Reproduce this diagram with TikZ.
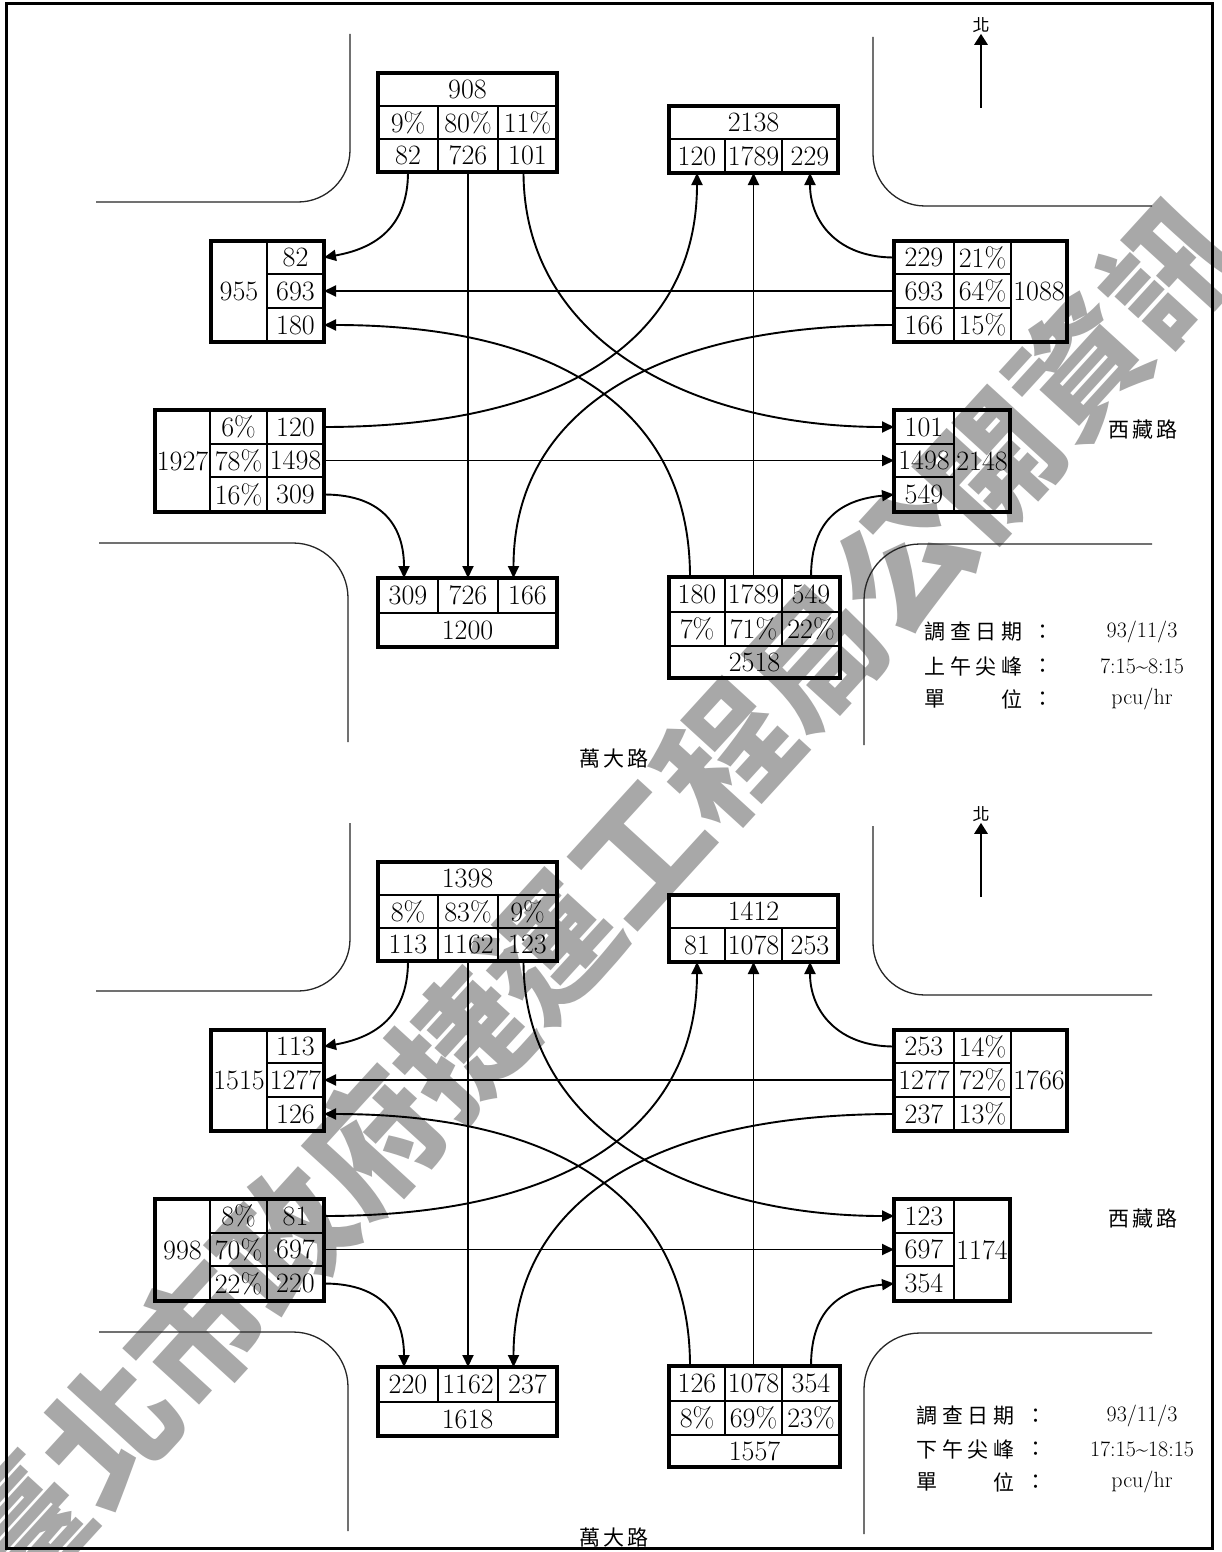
\documentclass[tikz,border=0pt]{standalone}
\usepackage{fontspec}
\newfontfamily\cjk{Noto Sans CJK TC}
\usetikzlibrary{arrows.meta}
\tikzset{
  cellbox/.style={draw, line width=1.6pt, inner sep=0pt, outer sep=0pt, font=\fontsize{28}{28}\selectfont},
  thickbox/.style={line width=4.5pt},
  flow/.style={line width=1.9pt, -{Triangle[length=12pt,width=11pt]}},
  road/.style={line width=1.3pt, black!85},
  northarrow/.style={line width=2.8pt, -{Triangle[length=11pt,width=13pt]}},
  cjklabel/.style={font=\cjk\fontsize{21}{21}\selectfont, inner sep=0pt},
  legendval/.style={font=\fontsize{22}{22}\selectfont, inner sep=0pt},
  wmark/.style={rotate=47.6, text=black!34, inner sep=0pt, font=\cjk\bfseries\fontsize{131}{131}\selectfont},
}
\newcommand{\cel}[6]{\node[cellbox, minimum width={(#4-#2)*1pt}, minimum height={(#5-#3)*1pt}] (#1) at ({(#2+#4)/2},{(#3+#5)/2}) {#6};}
\newcommand{\boxNi}[8]{%
  \cel{#1NiT}{378}{73}{557}{106}{#2}
  \cel{#1Nip1}{378}{106}{438}{139}{#3}
  \cel{#1Nip2}{438}{106}{498}{139}{#4}
  \cel{#1Nip3}{498}{106}{557}{139}{#5}
  \cel{#1Niv1}{378}{139}{438}{172}{#6}
  \cel{#1Niv2}{438}{139}{498}{172}{#7}
  \cel{#1Niv3}{498}{139}{557}{172}{#8}
  \draw[thickbox] (378,73) rectangle (557,172);}
\newcommand{\boxNo}[5]{%
  \cel{#1NoT}{669}{106}{838}{139}{#2}
  \cel{#1Nov1}{669}{139}{725}{173}{#3}
  \cel{#1Nov2}{725}{139}{782}{173}{#4}
  \cel{#1Nov3}{782}{139}{838}{173}{#5}
  \draw[thickbox] (669,106) rectangle (838,173);}
\newcommand{\boxWo}[5]{%
  \cel{#1WoT}{211}{241}{267}{342}{#2}
  \cel{#1Wov1}{267}{241}{324}{274}{#3}
  \cel{#1Wov2}{267}{274}{324}{308}{#4}
  \cel{#1Wov3}{267}{308}{324}{342}{#5}
  \draw[thickbox] (211,241) rectangle (324,342);}
\newcommand{\boxWi}[8]{%
  \cel{#1WiT}{155}{410}{210}{512}{#2}
  \cel{#1Wip1}{210}{410}{267}{444}{#3}
  \cel{#1Wip2}{210}{444}{267}{477}{#4}
  \cel{#1Wip3}{210}{477}{267}{512}{#5}
  \cel{#1Wiv1}{267}{410}{324}{444}{#6}
  \cel{#1Wiv2}{267}{444}{324}{477}{#7}
  \cel{#1Wiv3}{267}{477}{324}{512}{#8}
  \draw[thickbox] (155,410) rectangle (324,512);}
\newcommand{\boxEi}[8]{%
  \cel{#1EiT}{1011}{241}{1067}{342}{#2}
  \cel{#1Eiv1}{894}{241}{954}{274}{#3}
  \cel{#1Eiv2}{894}{274}{954}{308}{#4}
  \cel{#1Eiv3}{894}{308}{954}{342}{#5}
  \cel{#1Eip1}{954}{241}{1011}{274}{#6}
  \cel{#1Eip2}{954}{274}{1011}{308}{#7}
  \cel{#1Eip3}{954}{308}{1011}{342}{#8}
  \draw[thickbox] (894,241) rectangle (1067,342);}
\newcommand{\boxEo}[5]{%
  \cel{#1EoT}{954}{410}{1010}{512}{#2}
  \cel{#1Eov1}{894}{410}{954}{444}{#3}
  \cel{#1Eov2}{894}{444}{954}{477}{#4}
  \cel{#1Eov3}{894}{477}{954}{512}{#5}
  \draw[thickbox] (894,410) rectangle (1010,512);}
\newcommand{\boxSo}[5]{%
  \cel{#1Sov1}{378}{578}{438}{613}{#3}
  \cel{#1Sov2}{438}{578}{498}{613}{#4}
  \cel{#1Sov3}{498}{578}{557}{613}{#5}
  \cel{#1SoT}{378}{613}{557}{647}{#2}
  \draw[thickbox] (378,578) rectangle (557,647);}
\newcommand{\boxSi}[8]{%
  \cel{#1Siv1}{669}{577}{725}{612}{#3}
  \cel{#1Siv2}{725}{577}{782}{612}{#4}
  \cel{#1Siv3}{782}{577}{840}{612}{#5}
  \cel{#1Sip1}{669}{612}{725}{646}{#6}
  \cel{#1Sip2}{725}{612}{782}{646}{#7}
  \cel{#1Sip3}{782}{612}{840}{646}{#8}
  \cel{#1SiT}{669}{646}{840}{678}{#2}
  \draw[thickbox] (669,577) rectangle (840,678);}
\newcommand{\flows}[1]{%
  \draw[flow] (#1Niv1.south) .. controls +(0,60) and +(45,-8) .. (#1Wov1.east);
  \draw[flow] (#1Niv2.south) -- (#1Sov2.north);
  \draw[flow] ([xshift=-4pt]#1Niv3.south) .. controls +(0,170) and +(-200,0) .. (#1Eov1.west);
  \draw[flow] (#1Eiv1.west) .. controls +(-55,0) and +(0,50) .. (#1Nov3.south);
  \draw[flow] (#1Eiv2.west) -- (#1Wov2.east);
  \draw[flow] (#1Eiv3.west) .. controls +(-250,0) and +(0,-160) .. ([xshift=-14pt]#1Sov3.north);
  \draw[flow] (#1Wiv1.east) .. controls +(250,0) and +(0,160) .. (#1Nov1.south);
  \draw[flow] (#1Wiv2.east) -- (#1Eov2.west);
  \draw[flow] (#1Wiv3.east) .. controls +(60,0) and +(0,-50) .. ([xshift=-4pt]#1Sov1.north);
  \draw[flow] ([xshift=-7pt]#1Siv1.north) .. controls +(0,-170) and +(230,0) .. (#1Wov3.east);
  \draw[flow] (#1Siv2.north) -- (#1Nov2.south);
  \draw[flow] (#1Siv3.north) .. controls +(0,-60) and +(-50,5) .. (#1Eov3.west);}
\newcommand{\roads}[1]{%
  \draw[road, rounded corners=52pt] (350,34) -- (350,202) -- (96,202);
  \draw[road, rounded corners=52pt] (873,37) -- (873,206) -- (1152,206);
  \draw[road, rounded corners=55pt] (99,543) -- (348,543) -- (348,742);
  \draw[road, rounded corners=56pt] (1152,544) -- (864,544) -- (864,745);
  \node[font=\cjk\fontsize{17}{17}\selectfont, inner sep=1pt] (#1north) at (981,25) {北};
  \coordinate (#1nbase) at (981,108);
  \draw[northarrow] (#1nbase) -- (#1north.south);
  \node[cjklabel] (#1xizang) at (1143,430) {西\hspace{3pt}藏\hspace{3pt}路};}
\begin{document}
\begin{tikzpicture}[x=1pt, y=-1pt]
\useasboundingbox (0,0) rectangle (1221,1552);
\fill[white] (0,0) rectangle (1221,1552);
% watermark
\node[wmark] (wm) at (595,900) {臺北市政府捷運工程局公開資訊};
% ---- top: morning peak ----
\roads{t}
\boxNi{t}{908}{9\%}{80\%}{11\%}{82}{726}{101}
\boxNo{t}{2138}{120}{1789}{229}
\boxWo{t}{955}{82}{693}{180}
\boxWi{t}{1927}{6\%}{78\%}{16\%}{120}{1498}{309}
\boxEi{t}{1088}{229}{693}{166}{21\%}{64\%}{15\%}
\boxEo{t}{2148}{101}{1498}{549}
\boxSo{t}{1200}{309}{726}{166}
\boxSi{t}{2518}{180}{1789}{549}{7\%}{71\%}{22\%}
\flows{t}
\node[cjklabel] (twanda) at (614,758) {萬\hspace{3pt}大\hspace{3pt}路};
\node[cjklabel] (tl1) at (973.5,632) {調\hspace{4.5pt}查\hspace{4.5pt}日\hspace{4.5pt}期};
\node[cjklabel] (tc1) at (1043,632) {：};
\node[legendval] (tv1) at (1142,632) {93/11/3};
\node[cjklabel] (tl2) at (973.5,666) {上\hspace{4.5pt}午\hspace{4.5pt}尖\hspace{4.5pt}峰};
\node[cjklabel] (tc2) at (1043,666) {：};
\node[legendval] (tv2) at (1142,666) {7:15\textasciitilde 8:15};
\node[cjklabel] (tl3a) at (935,699) {單};
\node[cjklabel] (tl3b) at (1012,699) {位};
\node[cjklabel] (tc3) at (1043,699) {：};
\node[legendval] (tv3) at (1142,699) {pcu/hr};
% ---- bottom: afternoon peak ----
\begin{scope}[shift={(0,789)}]
\roads{b}
\boxNi{b}{1398}{8\%}{83\%}{9\%}{113}{1162}{123}
\boxNo{b}{1412}{81}{1078}{253}
\boxWo{b}{1515}{113}{1277}{126}
\boxWi{b}{998}{8\%}{70\%}{22\%}{81}{697}{220}
\boxEi{b}{1766}{253}{1277}{237}{14\%}{72\%}{13\%}
\boxEo{b}{1174}{123}{697}{354}
\boxSo{b}{1618}{220}{1162}{237}
\boxSi{b}{1557}{126}{1078}{354}{8\%}{69\%}{23\%}
\flows{b}
\end{scope}
\node[cjklabel] (bwanda) at (614,1537) {萬\hspace{3pt}大\hspace{3pt}路};
\node[cjklabel] (bl1) at (965.5,1416) {調\hspace{4.5pt}查\hspace{4.5pt}日\hspace{4.5pt}期};
\node[cjklabel] (bc1) at (1036,1416) {：};
\node[legendval] (bv1) at (1142,1416) {93/11/3};
\node[cjklabel] (bl2) at (965.5,1449) {下\hspace{4.5pt}午\hspace{4.5pt}尖\hspace{4.5pt}峰};
\node[cjklabel] (bc2) at (1036,1449) {：};
\node[legendval] (bv2) at (1142,1449) {17:15\textasciitilde 18:15};
\node[cjklabel] (bl3a) at (927,1482) {單};
\node[cjklabel] (bl3b) at (1004,1482) {位};
\node[cjklabel] (bc3) at (1036,1482) {：};
\node[legendval] (bv3) at (1142,1482) {pcu/hr};
% frame
\draw[line width=3pt] (6,4) rectangle (1212,1548);
\end{tikzpicture}
\end{document}
